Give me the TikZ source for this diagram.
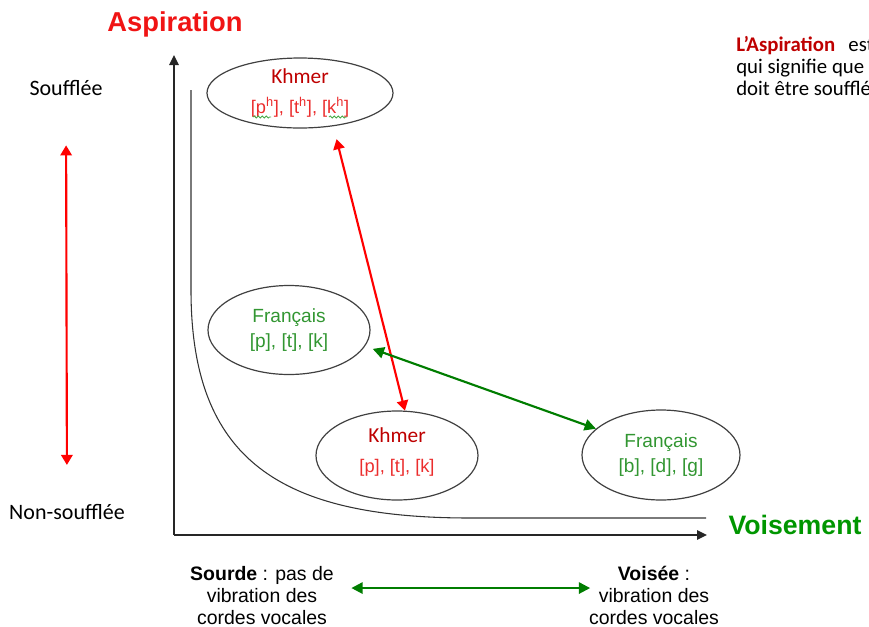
\documentclass[tikz,border=0pt]{standalone}
\usepackage{fontspec}
\setmainfont{Liberation Sans}
\newfontfamily\calfont{Carlito}
\usetikzlibrary{arrows.meta,shapes.geometric,decorations.pathmorphing}
\definecolor{axred}{RGB}{240,20,20}
\definecolor{khred}{RGB}{190,0,0}
\definecolor{ipared}{RGB}{235,45,45}
\definecolor{frgreen}{RGB}{50,150,50}
\definecolor{arrgreen}{RGB}{0,125,0}
\definecolor{vgreen}{RGB}{0,150,0}
\definecolor{spellgreen}{RGB}{70,170,70}
\tikzset{
  bubble/.style={draw=black!75, line width=0.9pt, ellipse, inner sep=0pt, align=center},
  frtext/.style={text=frgreen, font=\fontsize{14.3}{18.5}\selectfont},
  axisline/.style={draw=black!85, line width=1.2pt, -{Triangle[length=7.5pt,width=7pt]}},
  curveline/.style={draw=black!80, line width=0.8pt},
  redarr/.style={draw=red, line width=1.6pt, {Triangle[length=7.5pt,width=8.5pt]}-{Triangle[length=7.5pt,width=8.5pt]}},
  greenarr/.style={draw=arrgreen, line width=1.6pt, {Triangle[length=8.5pt,width=8.5pt]}-{Triangle[length=8.5pt,width=8.5pt]}},
  squiggle/.style={draw=spellgreen, line width=0.6pt, decorate, decoration={snake, amplitude=0.8pt, segment length=3pt}},
  sidelabel/.style={font=\calfont\fontsize{16.5}{20}\selectfont, text=black},
  voicetext/.style={font=\fontsize{14.6}{16.2}\selectfont, align=center, text=black, inner sep=0pt},
}
\newcommand{\asp}[1]{#1\textsuperscript{h}}
\newcommand{\khword}{{\calfont\fontsize{16}{19}\selectfont\color{khred}Khmer}}
\begin{document}
\begin{tikzpicture}[x=0.75pt,y=-0.75pt]
\useasboundingbox (0,0) rectangle (869,626);
\clip (0,0) rectangle (869,626);
% axes
\coordinate (O) at (174,535);
\coordinate (ytop) at (174,55);
\coordinate (xend) at (707,535);
\draw[axisline] (O) -- (ytop);
\draw[axisline] (O) -- (xend);
% curve
\draw[curveline] (191,90) -- (191,290) .. controls (191,460) and (280,518) .. (470,518) -- (706,518);
% titles
\node[font=\bfseries\fontsize{20.5}{24}\selectfont, text=axred] (asp) at (175,24) {Aspiration};
\node[font=\bfseries\fontsize{20}{24}\selectfont, text=vgreen] (vois) at (795,525) {Voisement};
% side labels
\node[sidelabel] (souf) at (66,88) {Soufflée};
\node[sidelabel] (nsouf) at (67,512) {Non-soufflée};
\draw[redarr, shorten <=33.75pt, shorten >=26pt] (souf.south) -- (nsouf.north);
% bubbles
\node[bubble, minimum width=186*0.75pt, minimum height=70*0.75pt] (kh1) at (300,93)
  {\khword\\[9pt]
   {\fontsize{13.7}{16}\selectfont\color{ipared}[\asp{p}], [\asp{t}], [\asp{k}]}};
\node[bubble, frtext, minimum width=162*0.75pt, minimum height=89*0.75pt] (fr1) at (289,330)
  {Français\\{}[p], [t], [k]};
\node[bubble, minimum width=162*0.75pt, minimum height=89*0.75pt] (kh2) at (397,455.5)
  {\khword\\[11pt]
   {\fontsize{13.7}{16}\selectfont\color{ipared}[p], [t], [k]\rule[-8pt]{0pt}{8pt}}};
\node[bubble, frtext, minimum width=158*0.75pt, minimum height=90*0.75pt] (fr2) at (661,455)
  {Français\\{}[b], [d], [g]};
% spell-check marks under [p^h] and [k^h]
\draw[squiggle] (253,117) -- (271,117);
\draw[squiggle] (329,117) -- (347,117);
% arrows between bubbles
\draw[redarr, shorten <=10pt] (kh1.-45) -- (kh2.80);
\draw[greenarr, shorten <=6pt] (fr1.-12) -- (fr2.158);
% voicing texts
\node[voicetext] (sourde) at (262,595.5) {\textbf{Sourde} : pas de\\vibration des\\cordes vocales};
\node[voicetext] (voisee) at (654,595.5) {\textbf{Voisée} :\\vibration des\\cordes vocales};
\draw[greenarr, shorten <=13pt, shorten >=-1pt] ([yshift=5.6pt]sourde.east) -- ([yshift=5.6pt]voisee.west);
% definition text (cut by the frame)
\node[anchor=north west, align=left, inner sep=0pt,
  font=\calfont\fontsize{15.6}{16.5}\selectfont] (defn) at (736,36)
  {{\bfseries\color{khred}L’Aspiration}\hspace*{10pt}est\\qui signifie que\\doit être soufflée};
\end{tikzpicture}
\end{document}
